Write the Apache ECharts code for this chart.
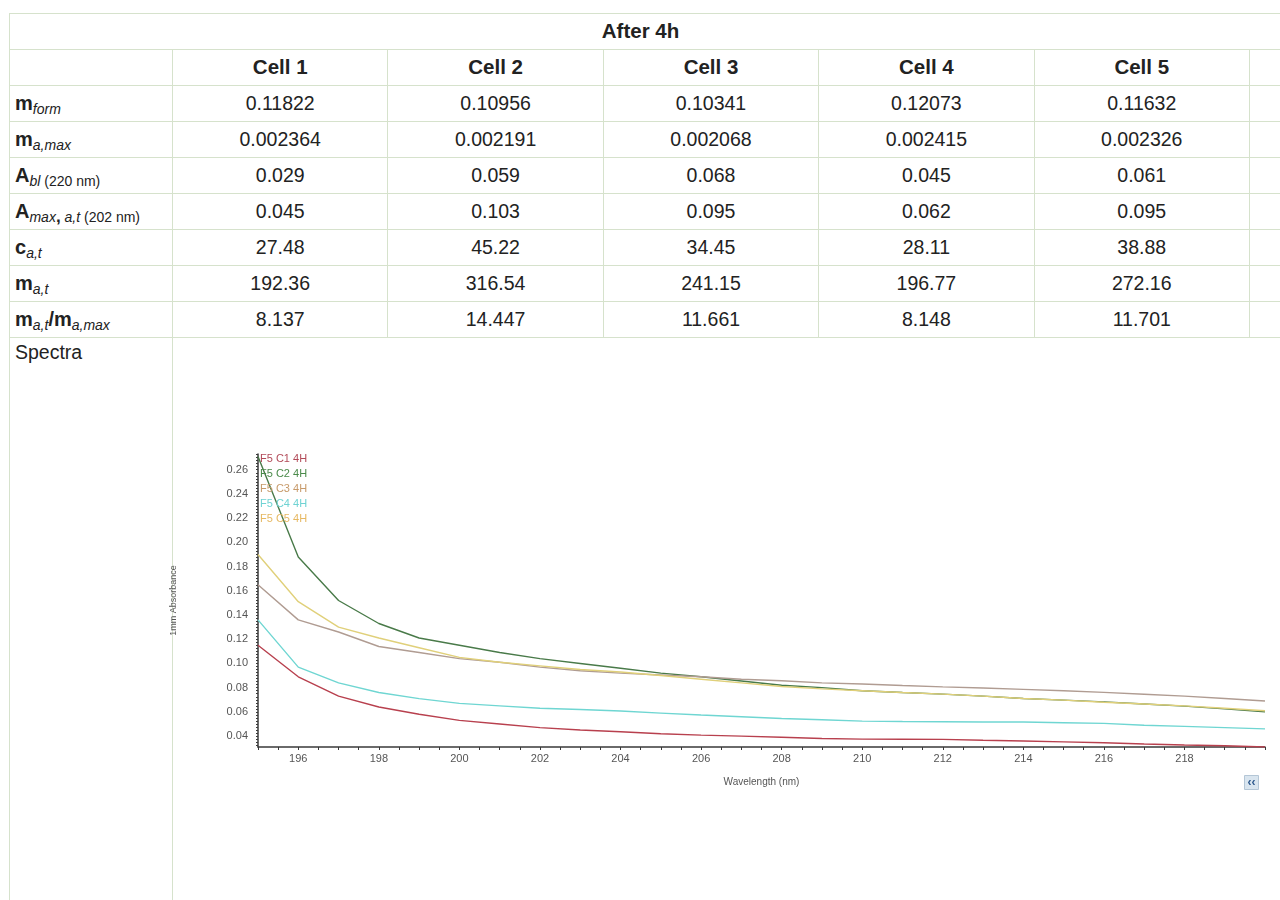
<!DOCTYPE html>
<html>
<head>
<meta charset="utf-8">
<script src="https://cdn.jsdelivr.net/npm/echarts@6/dist/echarts.min.js"></script>
<style>
  html, body { margin: 0; padding: 0; background: #fff; width: 1280px; height: 900px; overflow: hidden; }
  body { font-family: "Liberation Sans", Arial, sans-serif; color: #222; position: relative; }
  #tbl { position: absolute; left: 9px; top: 13px; border-collapse: collapse; table-layout: fixed; width: 1300px; }
  #tbl td { border: 1px solid #d6e2cc; padding: 0; font-size: 19.5px; text-align: center; vertical-align: middle; white-space: nowrap; overflow: hidden; }
  #tbl tr { height: 36px; }
  #tbl tr.hdr { height: 35.5px; }
  #tbl tr.hdr td { padding-right: 38px; }
  #tbl td.lbl { text-align: left; padding-left: 5px; font-weight: bold; font-size: 20px; }
  #tbl td.lbl sub { font-weight: normal; font-size: 14px; vertical-align: -4px; line-height: 0; }
  #tbl td.lbl sub i { font-style: italic; }
  #tbl td.lbl sub b { font-weight: bold; font-size: 17px; }
  #tbl td.b { font-weight: bold; font-size: 20.5px; }
  #tbl td.spec { vertical-align: top; text-align: left; padding-left: 5px; padding-top: 3px; font-size: 19.5px; }
  #chart { position: absolute; left: 0; top: 0; width: 1280px; height: 900px; pointer-events: none; }
</style>
</head>
<body>
<table id="tbl"></table>
<div id="chart"></div>
<script>
// ---------- table data ----------
const tableTitle = "After 4h";
const cellNames = ["Cell 1", "Cell 2", "Cell 3", "Cell 4", "Cell 5"];
const rowLabels = [
  "m<sub><i>form</i></sub>",
  "m<sub><i>a,max</i></sub>",
  "A<sub><i>bl</i> (220 nm)</sub>",
  "A<sub><i>max</i><b>,</b> <i>a,t</i> (202 nm)</sub>",
  "c<sub><i>a,t</i></sub>",
  "m<sub><i>a,t</i></sub>",
  "m<sub><i>a,t</i></sub>/m<sub><i>a,max</i></sub>"
];
const rowMForm   = ["0.11822", "0.10956", "0.10341", "0.12073", "0.11632"];
const rowMaMax   = ["0.002364", "0.002191", "0.002068", "0.002415", "0.002326"];
const rowAbl     = ["0.029", "0.059", "0.068", "0.045", "0.061"];
const rowAmax    = ["0.045", "0.103", "0.095", "0.062", "0.095"];
const rowCat     = ["27.48", "45.22", "34.45", "28.11", "38.88"];
const rowMat     = ["192.36", "316.54", "241.15", "196.77", "272.16"];
const rowRatio   = ["8.137", "14.447", "11.661", "8.148", "11.701"];
const spectraLabel = "Spectra";

// ---------- chart data ----------
const wavelengths = [195,196,197,198,199,200,201,202,203,204,205,206,207,208,209,210,211,212,213,214,215,216,217,218,219,220];
const seriesNames = ["F5 C1 4H", "F5 C2 4H", "F5 C3 4H", "F5 C4 4H", "F5 C5 4H"];
const absC1 = [0.115,0.089,0.073,0.064,0.058,0.053,0.050,0.047,0.045,0.0436,0.042,0.0408,0.040,0.039,0.038,0.0375,0.0374,0.0373,0.0366,0.036,0.0352,0.0345,0.0335,0.0326,0.032,0.031];
const absC2 = [0.271,0.188,0.152,0.133,0.121,0.115,0.109,0.104,0.100,0.096,0.092,0.089,0.0855,0.082,0.080,0.0775,0.076,0.0747,0.073,0.0711,0.0697,0.0683,0.0665,0.0648,0.0625,0.060];
const absC3 = [0.165,0.136,0.126,0.114,0.109,0.104,0.101,0.097,0.094,0.092,0.0905,0.089,0.087,0.0857,0.084,0.083,0.0818,0.0807,0.0797,0.0786,0.0774,0.0761,0.0746,0.073,0.071,0.069];
const absC4 = [0.136,0.097,0.084,0.076,0.071,0.067,0.065,0.063,0.062,0.0607,0.059,0.0574,0.056,0.0546,0.0535,0.0524,0.052,0.0518,0.0517,0.0516,0.051,0.0505,0.049,0.048,0.047,0.046];
const absC5 = [0.190,0.151,0.130,0.121,0.113,0.105,0.101,0.098,0.095,0.093,0.090,0.087,0.084,0.081,0.079,0.0775,0.076,0.0747,0.073,0.0711,0.0697,0.068,0.0665,0.065,0.063,0.061];
const yTickLabels = [0.04,0.06,0.08,0.10,0.12,0.14,0.16,0.18,0.20,0.22,0.24,0.26];
const xTickLabels = [196,198,200,202,204,206,208,210,212,214,216,218];
const yAxisTitle = "1mm Absorbance";
const xAxisTitle = "Wavelength (nm)";

// ---------- build table ----------
(function buildTable() {
  const t = document.getElementById('tbl');
  let html = '<colgroup><col style="width:163px">';
  for (let i = 0; i < 5; i++) html += '<col style="width:215.4px">';
  html += '<col style="width:60px"></colgroup>';
  html += '<tr class="hdr"><td class="b" colspan="7">' + tableTitle + '</td></tr>';
  html += '<tr><td></td>' + cellNames.map(c => '<td class="b">' + c + '</td>').join('') + '<td></td></tr>';
  const rows = [rowMForm, rowMaMax, rowAbl, rowAmax, rowCat, rowMat, rowRatio];
  rows.forEach((r, i) => {
    html += '<tr><td class="lbl">' + rowLabels[i] + '</td>' + r.map(v => '<td>' + v + '</td>').join('') + '<td></td></tr>';
  });
  html += '<tr style="height:600px"><td class="spec">' + spectraLabel + '</td><td colspan="6" style="border-right:none;border-bottom:none"></td></tr>';
  t.innerHTML = html;
})();

// ---------- chart ----------
const colors = ["#b8404e", "#497a49", "#b09c92", "#6fd6d2", "#e0d07a"];
const legendColors = ["#b24a58", "#4a8a4a", "#c79a6a", "#6fd3d3", "#e6b862"];
const allSeries = [absC1, absC2, absC3, absC4, absC5];

const yTicks = [];
for (let v = 0.0325; v <= 0.2726; v += 0.0025) yTicks.push(+v.toFixed(4));
const xTicks = [];
for (let v = 195; v <= 220; v += 0.5) xTicks.push(v);

const chart = echarts.init(document.getElementById('chart'), null, { renderer: 'canvas' });
chart.setOption({
  animation: false,
  backgroundColor: 'transparent',
  textStyle: { fontFamily: '"Liberation Sans", Arial, sans-serif' },
  grid: { left: 258, top: 454, width: 1007, height: 293, containLabel: false, outerBoundsMode: 'none' },
  legend: {
    orient: 'vertical', left: 255, top: 453, padding: 0,
    icon: 'none', itemWidth: 0, itemHeight: 12, itemGap: 3,
    textStyle: { fontSize: 11, lineHeight: 12 },
    data: seriesNames.map((n, i) => ({ name: n, textStyle: { color: legendColors[i] } }))
  },
  xAxis: {
    type: 'value', min: 195, max: 220,
    name: xAxisTitle, nameLocation: 'middle', nameGap: 30,
    nameTextStyle: { fontSize: 10, color: '#555' },
    axisLine: { show: true, lineStyle: { color: '#3a3a3a', width: 1.5 } },
    axisTick: { show: true, length: 3, customValues: xTicks, lineStyle: { color: '#3a3a3a' } },
    axisLabel: { customValues: xTickLabels, fontSize: 11, color: '#555', margin: 6, formatter: v => String(v) },
    splitLine: { show: false }
  },
  yAxis: {
    type: 'value', min: 0.031, max: 0.273,
    name: yAxisTitle, nameLocation: 'middle', nameGap: 80,
    nameTextStyle: { fontSize: 9, color: '#555' },
    axisLine: { show: true, lineStyle: { color: '#3a3a3a', width: 1.5 } },
    axisTick: { show: true, length: 2, customValues: yTicks, lineStyle: { color: '#3a3a3a' } },
    axisLabel: { customValues: yTickLabels, fontSize: 11, color: '#555', margin: 10, formatter: v => v.toFixed(2) },
    splitLine: { show: false }
  },
  series: seriesNames.map((n, i) => ({
    name: n, type: 'line', showSymbol: false, symbol: 'none',
    lineStyle: { color: colors[i], width: 1.4 },
    itemStyle: { color: colors[i] },
    data: wavelengths.map((w, j) => [w, allSeries[i][j]])
  })),
  graphic: [{
    type: 'group', left: 1244, top: 775,
    children: [
      { type: 'rect', shape: { x: 0, y: 0, width: 14, height: 14 }, style: { fill: '#d9e5ef', stroke: '#b4c6d6', lineWidth: 1 } },
      { type: 'text', x: 7, y: 7, style: { text: '‹‹', fontSize: 12, fontWeight: 'bold', fill: '#2f5a8e', align: 'center', verticalAlign: 'middle' } }
    ]
  }]
});
</script>
</body>
</html>
